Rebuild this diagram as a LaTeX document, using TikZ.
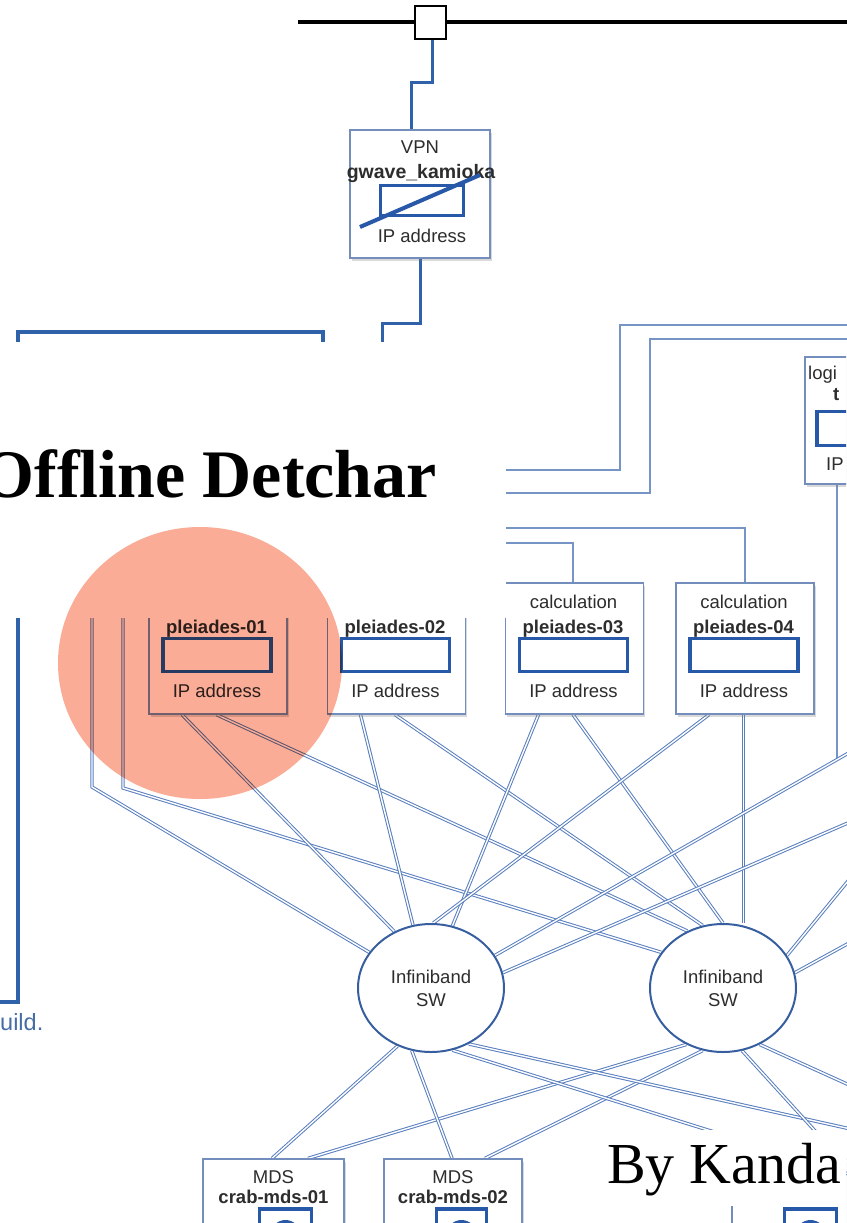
\documentclass[tikz,border=0pt]{standalone}
\usepackage{fontspec}
\setmainfont{Liberation Serif}
\newfontfamily\arialf{Liberation Sans}
\usetikzlibrary{shapes.geometric,shadows}
\pgfdeclarelayer{bg}\pgfdeclarelayer{fg}
\pgfsetlayers{bg,main,fg}
\definecolor{boxc}{RGB}{115,142,188}
\definecolor{ipc}{RGB}{40,88,168}
\definecolor{ibc}{RGB}{88,126,190}
\definecolor{thinc}{RGB}{118,148,198}
\definecolor{tbc}{RGB}{48,98,170}
\definecolor{swc}{RGB}{55,95,160}
\definecolor{txtc}{RGB}{45,45,45}
\definecolor{uildc}{RGB}{70,108,165}
\definecolor{salmon}{RGB}{250,172,150}
\tikzset{
 box/.style={draw=boxc, line width=1.3pt, fill=white, inner sep=0pt, drop shadow={shadow xshift=1.5pt, shadow yshift=-2.5pt, opacity=0.3}},
 ipbox/.style={draw=ipc, line width=3.5pt, fill=white, inner sep=0pt},
 ib/.style={draw=ibc, line width=1pt, double=white, double distance=1.4pt},
 thinln/.style={draw=thinc, line width=1.5pt},
 tb/.style={draw=tbc, line width=3pt},
 lbl/.style={text=txtc, inner sep=0pt, anchor=base},
 swnode/.style={ellipse, draw=swc, line width=2pt, fill=white, minimum width=146pt, minimum height=128pt, inner sep=0pt, align=center, text=txtc, font=\arialf\fontsize{18.5}{23}\selectfont},
}
\begin{document}
\begin{tikzpicture}[x=1pt,y=-1pt,font=\arialf\fontsize{18.5}{21}\selectfont]
\useasboundingbox (0,0) rectangle (846,1223);
\clip (0,0) rectangle (846,1223);

% ---------- nodes ----------
\node[draw=black, line width=2.5pt, fill=white, minimum width=31pt, minimum height=33pt, inner sep=0pt] (sq) at (430.5,22.5) {};

\node[box, minimum width=140pt, minimum height=128pt] (vpn) at (420,194) {};
\node[lbl] (vpnt) at (420,153) {VPN};
\node[lbl, font=\arialf\fontsize{19.5}{21}\selectfont] (vpnn) at (421,178) {\bfseries gwave\_kamioka};
\node[ipbox, minimum width=83pt, minimum height=30pt] (vpnip) at (422,200.5) {};
\node[lbl] (vpna) at (422,242) {IP address};

\node[box, minimum width=140pt, minimum height=127pt] (login) at (875,420.5) {};
\node[lbl, anchor=base west] (logt) at (808,379) {logi};
\node[lbl, anchor=base west] (logn) at (833,400) {\bfseries t};
\node[ipbox, minimum width=110pt, minimum height=34pt] (logip) at (872,428.5) {};
\node[lbl, anchor=base west] (loga) at (826,470) {IP};

\foreach \i/\x in {1/218,2/396.5,3/574.5,4/745}{
  \node[box, minimum width=138pt, minimum height=131pt] (p\i) at (\x,648.5) {};
  \node[lbl] (pc\i) at (\x-1,608) {calculation};
  \node[lbl] (pn\i) at (\x-1.5,633) {\bfseries pleiades-0\i};
  \node[ipbox, minimum width=108pt, minimum height=33pt] (pip\i) at (\x-1,655) {};
  \node[lbl] (pa\i) at (\x-1,697) {IP address};
  \coordinate (pfa\i) at ([xshift=-36pt]p\i.south);
  \coordinate (pfb\i) at ([xshift=-1.5pt]p\i.south);
}

\node[swnode] (sw1) at (431,988) {Infiniband\\SW};
\node[swnode] (sw2) at (723,988) {Infiniband\\SW};

\node[box, minimum width=141pt, minimum height=131pt] (m1) at (273.5,1224.5) {};
\node[lbl] (m1t) at (273.5,1183) {MDS};
\node[lbl] (m1n) at (273.5,1203) {\bfseries crab-mds-01};
\node[ipbox, minimum width=52pt, minimum height=50pt] (m1ip) at (285.5,1234) {};
\fill[ipc] (m1ip.center) ++(0,1) circle (15);

\node[box, minimum width=138pt, minimum height=131pt] (m2) at (453,1224.5) {};
\node[lbl] (m2t) at (453,1183) {MDS};
\node[lbl] (m2n) at (453,1203) {\bfseries crab-mds-02};
\node[ipbox, minimum width=50pt, minimum height=50pt] (m2ip) at (461.5,1234) {};
\fill[ipc] (m2ip.center) ++(0,1) circle (15);

\node[box, minimum width=140pt, minimum height=131pt] (m3) at (802,1224.5) {};
\node[ipbox, minimum width=52pt, minimum height=50pt] (m3ip) at (810.5,1234) {};
\fill[ipc] (m3ip.center) ++(0,1) circle (15);

\coordinate (mfa1) at ([xshift=-1.5pt]m1.north);
\coordinate (mfb1) at ([xshift=34.5pt]m1.north);
\coordinate (mfa2) at ([xshift=-1pt]m2.north);
\coordinate (mfb2) at ([xshift=32pt]m2.north);
\coordinate (mfa3) at ([xshift=38pt]m3.north);

% ---------- connectors ----------
\begin{pgfonlayer}{bg}
\coordinate (bbL) at (298,22.5);
\coordinate (bbR) at (900,22.5);
\draw[line width=4pt] (bbL) -- (bbR);

\coordinate (v1) at (432,82);
\coordinate (v2) at (411,82);
\draw[tb] (sq.south -| v1) |- (v2) -- (vpn.north -| v2);
\coordinate (v3) at (382,323);
\coordinate (v4) at (382,400);
\draw[tb] (vpn.south) |- (v3) -- (v4);

\coordinate (f0) at (0,1002);
\coordinate (f1) at (18,1002);
\coordinate (f2) at (18,332);
\coordinate (f3) at (323,332);
\coordinate (f4) at (323,400);
\draw[tb, line width=3.5pt] (f0) -- (f1) -- (f2) -- (f3) -- (f4);

% single lines (top right)
\coordinate (a0) at (900,325);
\coordinate (a1) at (620,325);
\coordinate (a2) at (495,470);
\draw[thinln] (a0) -- (a1) |- (a2);
\coordinate (b0) at (900,339);
\coordinate (b1) at (650,339);
\coordinate (b2) at (495,493);
\draw[thinln] (b0) -- (b1) |- (b2);
\coordinate (c2) at (495,528);
\draw[thinln] (p4.north) |- (c2);
\coordinate (d2) at (495,543);
\draw[thinln] ([xshift=-1.5pt]p3.north) |- (d2);
\coordinate (lgb) at (837,760);
\draw[thinln] (lgb |- login.south) -- (lgb);

% infiniband links (top)
\coordinate (l90t) at (92,600);
\coordinate (l90b) at (92,787);
\draw[ib] (l90t) -- (l90b) -- (sw1.150);
\coordinate (l122t) at (123,600);
\coordinate (l122b) at (123,788);
\draw[ib] (l122t) -- (l122b) -- (sw2.150);
\draw[ib] (pfa1) -- (sw1.123);
\draw[ib] (pfb1) -- (sw2.122);
\draw[ib] (pfa2) -- (sw1.106);
\draw[ib] (pfb2) -- (sw2.108);
\draw[ib] (pfa3) -- (sw1.71);
\draw[ib] (pfb3) -- (sw2.90);
\draw[ib] (pfa4) -- (sw1.88);
\draw[ib] (pfb4) -- (pfb4 |- sw2.north);
\coordinate (o1) at (880,735);
\coordinate (o2) at (880,809);
\coordinate (o3) at (880,842);
\coordinate (o4) at (880,926);
\draw[ib] (o1) -- (sw1.27);
\draw[ib] (o2) -- (sw1.12);
\draw[ib] (o3) -- (sw2.27);
\draw[ib] (o4) -- (sw2.12);

% infiniband links (bottom)
\draw[ib] (mfa1) -- (sw1.240);
\draw[ib] (mfb1) -- (sw2.237);
\draw[ib] (mfa2) -- (sw1.253);
\draw[ib] (mfb2) -- (sw2.252);
\coordinate (o5) at (900,1140);
\coordinate (o6) at (900,1190);
\coordinate (o7) at (900,1108);
\draw[ib] (sw1.304) -- (o5);
\draw[ib] (sw1.289) -- (o6);
\draw[ib] (sw2.287) -- (mfa3);
\draw[ib] (sw2.303) -- (o7);
\end{pgfonlayer}

% VPN diagonal
\draw[draw=ipc, line width=4pt] (360,227) -- (480,175);

\node[anchor=base west, inner sep=0pt, text=uildc, font=\arialf\fontsize{23.5}{25}\selectfont] (uild) at (0,1030) {uild.};

% ---------- overlays ----------
\begin{pgfonlayer}{fg}
\fill[white] (0,342) rectangle (506,618);
\node[anchor=base east, inner sep=0pt, font=\rmfamily\bfseries\fontsize{68}{70}\selectfont] (title) at (437,497) {Offline Detchar};
\fill[white] (590,1130) rectangle (846,1206);
\node[anchor=base west, inner sep=0pt, font=\rmfamily\fontsize{58}{60}\selectfont] (by) at (607,1183) {By Kanda};
\begin{scope}[blend mode=multiply]
\fill[salmon] (200,663) ellipse [x radius=142, y radius=136];
\end{scope}
\end{pgfonlayer}
\end{tikzpicture}
\end{document}
